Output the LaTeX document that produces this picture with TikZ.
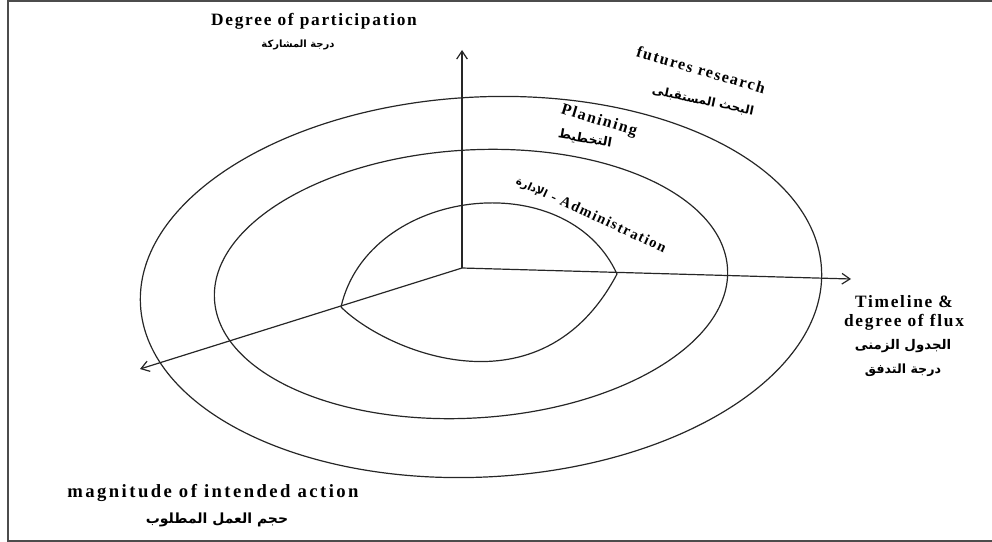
\documentclass[tikz,border=0pt]{standalone}
\usepackage{fontspec}
\setmainfont{Liberation Serif}
\newfontfamily\arabicfont[Script=Arabic]{DejaVu Sans}
\newfontfamily\spacedfont[LetterSpace=10]{Liberation Serif}
\newfontfamily\widefont[LetterSpace=13]{Liberation Serif}
\TeXXeTstate=1
\usetikzlibrary{arrows.meta}
\newcommand{\artext}[1]{\beginR #1\endR}
\begin{document}
\begin{tikzpicture}[x=0.75pt,y=-0.75pt,
  ring/.style={draw=black!85, line width=0.9pt},
  axis/.style={draw=black!85, line width=0.9pt, -{Straight Barb[length=6pt,width=8pt]}},
  eng/.style={font=\spacedfont\bfseries\fontsize{#1}{#1}\selectfont, inner sep=0pt},
  eng/.default=13,
  arb/.style={font=\arabicfont\bfseries\fontsize{#1}{#1}\selectfont, inner sep=0pt},
  arb/.default=9]
\useasboundingbox (0,0) rectangle (992,542);
\draw [gray!60!black, line width=1.5pt] (992,1.5) -- (7.5,1.5) -- (7.5,540.5) -- (992,540.5);
\draw [ring, rotate around={3:(481,287)}] (481,287) ellipse [x radius=341, y radius=190];
\draw [ring, rotate around={3.5:(471,284)}] (471,284) ellipse [x radius=257, y radius=134];
\coordinate (lensL) at (341,307);
\coordinate (lensR) at (617,274);
\draw [ring] (lensL) .. controls (368,188) and (566,163) .. (lensR);
\draw [ring] (lensL) .. controls (385,351) and (541,418) .. (lensR);
\coordinate (O) at (462,268);
\coordinate (up) at (462,50);
\coordinate (rt) at (851,279);
\coordinate (lf) at (140,369);
\draw [axis] (O) -- (up);
\draw [axis] (O) -- (rt);
\draw [axis] (O) -- (lf);
\node [eng] (part) at (314,21) {Degree of participation};
\node [arb=7.5] (partar) at (298,45) {\artext{درجة المشاركة}};
\node [eng=12, rotate=-16] (fut) at (701,70) {futures research};
\node [arb, rotate=-12] (futar) at (703,101) {\artext{البحث المستقبلى}};
\node [eng=12, rotate=-17] (plan) at (599,121) {Planining};
\node [arb=9.5, rotate=-10] (planar) at (585,139) {\artext{التخطيط}};
\node [eng=11, rotate=-25] (adm) at (591,215) {{\arabicfont\fontsize{8}{10}\selectfont\artext{الإدارة}} - Administration};
\node [eng] (time) at (904,302) {Timeline \&};
\node [eng] (flux) at (904,322) {degree of flux};
\node [arb=10] (timear) at (903,346) {\artext{الجدول الزمنى}};
\node [arb=9.5] (fluxar) at (903,370) {\artext{درجة التدفق}};
\node [font=\widefont\bfseries\fontsize{14}{14}\selectfont, inner sep=0pt] (mag) at (213,493) {magnitude of intended action};
\node [arb=10.5] (magar) at (217,520) {\artext{حجم العمل المطلوب}};
\end{tikzpicture}
\end{document}
